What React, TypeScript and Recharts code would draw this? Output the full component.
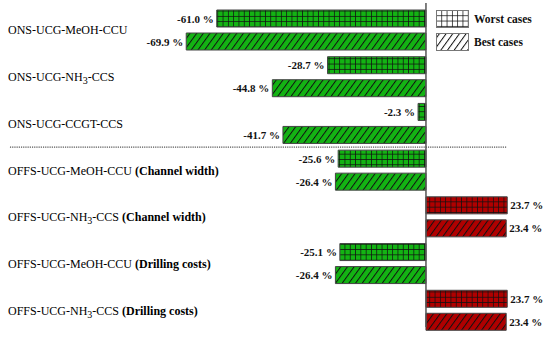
import React from 'react';
import { BarChart, Bar, XAxis, YAxis, Cell, LabelList, ReferenceLine, Legend } from 'recharts';

const categories = [
  'ONS-UCG-MeOH-CCU',
  'ONS-UCG-NH3-CCS',
  'ONS-UCG-CCGT-CCS',
  'OFFS-UCG-MeOH-CCU (Channel width)',
  'OFFS-UCG-NH3-CCS (Channel width)',
  'OFFS-UCG-MeOH-CCU (Drilling costs)',
  'OFFS-UCG-NH3-CCS (Drilling costs)',
];
const worstValues = [-61.0, -28.7, -2.3, -25.6, 23.7, -25.1, 23.7];
const bestValues = [-69.9, -44.8, -41.7, -26.4, 23.4, -26.4, 23.4];
const seriesNames = ['Worst cases', 'Best cases'];
const xDomain: [number, number] = [-100, 35];
const separatorAfter = categories[2];
const separatorExtent = [-121.3, 23.6];

const data = categories.map((name, i) => ({ name, worst: worstValues[i], best: bestValues[i] }));

const FONT = '"Liberation Serif", "Times New Roman", serif';
const GREEN = '#13b313';
const RED = '#b00000';

const Patterns = () => (
  <svg width={0} height={0} style={{ position: 'absolute' }}>
    <defs>
      {[
        ['Green', GREEN],
        ['Red', RED],
        ['White', '#ffffff'],
      ].map(([k, c]) => (
        <React.Fragment key={k}>
          <pattern id={`grid${k}`} patternUnits="userSpaceOnUse" width={5.3} height={5.3}>
            <rect x={0} y={0} width={5.3} height={5.3} fill={c} />
            <path d="M0 0.4 H5.3 M0.4 0 V5.3" stroke="#111" strokeWidth={0.8} fill="none" />
          </pattern>
          <pattern id={`hatch${k}`} patternUnits="userSpaceOnUse" width={5.4} height={5.4} patternTransform="rotate(36)">
            <rect x={0} y={0} width={5.4} height={5.4} fill={c} />
            <line x1={0.5} y1={0} x2={0.5} y2={5.4} stroke="#111" strokeWidth={1} />
          </pattern>
        </React.Fragment>
      ))}
    </defs>
  </svg>
);

const CategoryTick = (props: any) => {
  const { y, payload } = props;
  const label = String(payload.value);
  const m = label.match(/^(.*?)(?: \((.*)\))?$/) || [label, label, undefined];
  const base = m[1] as string;
  const suffix = m[2] as string | undefined;
  const parts = base.split('NH3');
  return (
    <text x={8} y={y} dy={4} style={{ fontFamily: FONT }} fontSize={12} fill="#000" textAnchor="start">
      <tspan>{parts[0]}</tspan>
      {parts.length > 1 && (
        <>
          <tspan>NH</tspan>
          <tspan dy={3} fontSize={10}>3</tspan>
          <tspan dy={-3}>{parts[1]}</tspan>
        </>
      )}
      {suffix && (
        <>
          <tspan> </tspan>
          <tspan fontWeight="bold">({suffix})</tspan>
        </>
      )}
    </text>
  );
};

const ValueLabel = (props: any) => {
  const { x, y, width, height, value } = props;
  const v = Number(value);
  const left = Math.min(x, x + width);
  const right = Math.max(x, x + width);
  const neg = v < 0;
  return (
    <text
      x={neg ? left - 3 : right + 3}
      y={y + height / 2}
      dy={4}
      textAnchor={neg ? 'end' : 'start'}
      style={{ fontFamily: FONT }}
      fontSize={11}
      fontWeight="bold"
      fill="#111"
    >
      {v.toFixed(1)} %
    </text>
  );
};

const LegendContent = (props: any) => {
  const payload = props.payload || [];
  const fills = ['url(#gridWhite)', 'url(#hatchWhite)'];
  const ordered = seriesNames
    .map((n) => payload.find((p: any) => p.value === n))
    .filter(Boolean);
  return (
    <svg width={110} height={44} style={{ display: 'block' }}>
      {ordered.map((entry: any, i: number) => (
        <g key={i}>
          <rect x={0.5} y={0.5 + i * 23} width={32} height={17} fill={fills[i]} stroke="#777" strokeWidth={1} />
          <text x={38} y={13 + i * 23} style={{ fontFamily: FONT }} fontSize={11.5} fontWeight="bold" fill="#111">
            {entry.value}
          </text>
        </g>
      ))}
    </svg>
  );
};

const ZeroLine = (props: any) => {
  const { x1, y1, x2, y2 } = props;
  return <line x1={x1} y1={y1 - 7} x2={x2} y2={y2 - 4} stroke="#555" strokeWidth={1.5} />;
};

export default function App() {
  return (
    <div style={{ position: 'absolute', left: 0, top: 0 }}>
      <Patterns />
      <BarChart
        width={550}
        height={342}
        data={data}
        layout="vertical"
        margin={{ top: 7, right: 4, bottom: 8, left: 8 }}
        barGap={6}
      >
        <XAxis type="number" hide domain={xDomain} allowDataOverflow />
        <YAxis
          type="category"
          dataKey="name"
          width={75}
          axisLine={false}
          tickLine={false}
          tick={<CategoryTick />}
          interval={0}
        />
        <Legend
          layout="horizontal"
          verticalAlign="middle"
          align="center"
          content={<LegendContent />}
          wrapperStyle={{ position: 'absolute', left: 436, top: 10, width: 110, height: 44 }}
        />
        <Bar dataKey="worst" name={seriesNames[0]} barSize={17} stroke="#444" strokeWidth={1} isAnimationActive={false}>
          {data.map((d, i) => (
            <Cell key={`w${i}`} fill={d.worst < 0 ? 'url(#gridGreen)' : 'url(#gridRed)'} />
          ))}
          <LabelList dataKey="worst" content={<ValueLabel />} />
        </Bar>
        <Bar dataKey="best" name={seriesNames[1]} barSize={17} stroke="#444" strokeWidth={1} isAnimationActive={false}>
          {data.map((d, i) => (
            <Cell key={`b${i}`} fill={d.best < 0 ? 'url(#hatchGreen)' : 'url(#hatchRed)'} />
          ))}
          <LabelList dataKey="best" content={<ValueLabel />} />
        </Bar>
        <ReferenceLine x={0} ifOverflow="visible" shape={<ZeroLine />} />
        <ReferenceLine
          segment={[
            { x: separatorExtent[0], y: separatorAfter },
            { x: separatorExtent[1], y: separatorAfter },
          ]}
          position="end"
          ifOverflow="visible"
          stroke="#555"
          strokeWidth={1.3}
          strokeDasharray="1.2 1"
        />
      </BarChart>
    </div>
  );
}
